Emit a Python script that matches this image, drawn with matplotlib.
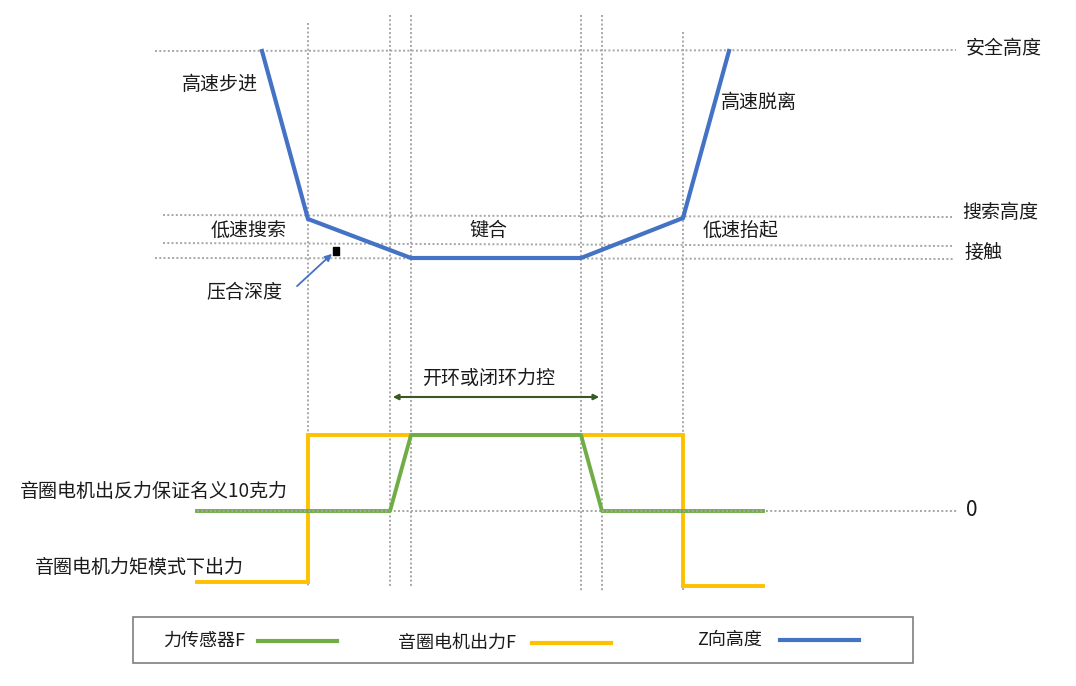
import matplotlib.pyplot as plt
from matplotlib.patches import Rectangle

plt.rcParams['font.family'] = ['Noto Sans CJK SC', 'DejaVu Sans']
plt.rcParams['font.weight'] = 'light'

# 颜色
BLUE = '#4472C4'
GREEN = '#70AD47'
YELLOW = '#FFC000'
GRID = '#A6A6A6'
TXT = '#1a1a1a'

# 时间节点（横向位置）与竖直辅助线范围
guide_x = [308, 390, 411, 581, 602, 683]
guide_top = [23, 15, 15, 15, 15, 32]
guide_bottom = [586, 587, 587, 591, 591, 590]

# 高度水平线：名称、纵向位置、左右端
level_names = ['安全高度', '搜索高度', '接触', '']
level_y_left = [51, 215, 243, 258]
level_y_right = [50, 217, 246, 259]
level_x_left = [155, 163, 163, 155]
level_x_right = [956, 953, 953, 953]

# Z向高度曲线
z_t = [262, 308, 411, 581, 683, 729]
z_h = [51, 219, 258, 258, 218, 51]

# 力曲线
force_zero = 511
sensor_t = [197, 390, 411, 581, 602, 763]
sensor_f = [511, 511, 435, 435, 511, 511]
coil_t = [197, 308, 308, 683, 683, 763]
coil_f = [582, 582, 435, 435, 586, 586]

fig = plt.figure(figsize=(10.76, 6.86), dpi=100)
ax = fig.add_axes([0, 0, 1, 1])
ax.set_xlim(0, 1076)
ax.set_ylim(686, 0)
ax.axis('off')

dot = (0, (1, 1.2))

# 竖直辅助线
for x, t, b in zip(guide_x, guide_top, guide_bottom):
    ax.plot([x, x], [t, b], color=GRID, lw=1.4, ls=dot, zorder=1)

# 水平高度线
for xl, xr, yl, yr in zip(level_x_left, level_x_right, level_y_left, level_y_right):
    ax.plot([xl, xr], [yl, yr], color=GRID, lw=1.4, ls=dot, zorder=1)

# 0 线
ax.plot([197, 958], [force_zero, force_zero], color=GRID, lw=1.4, ls=dot, zorder=1)

# 曲线
ax.plot(z_t, z_h, color=BLUE, lw=3, solid_joinstyle='miter', zorder=3)
ax.plot(coil_t, coil_f, color=YELLOW, lw=2.8, solid_joinstyle='miter', zorder=3)
ax.plot(sensor_t, sensor_f, color=GREEN, lw=2.8, zorder=4)
ax.plot([197, 390], [force_zero, force_zero], color=GRID, lw=1.4, ls=dot, zorder=5)
ax.plot([602, 763], [force_zero, force_zero], color=GRID, lw=1.4, ls=dot, zorder=5)

# 文字标注
fs = 13.7
ax.text(220, 85, '高速步进', fontsize=fs, color=TXT, ha='center', va='center')
ax.text(759, 102, '高速脱离', fontsize=fs, color=TXT, ha='center', va='center')
ax.text(249, 231, '低速搜索', fontsize=fs, color=TXT, ha='center', va='center')
ax.text(488, 230, '键合', fontsize=fs, color=TXT, ha='center', va='center')
ax.text(741, 231, '低速抬起', fontsize=fs, color=TXT, ha='center', va='center')
ax.text(244, 292, '压合深度', fontsize=fs, color=TXT, ha='center', va='center')
ax.text(966, 48, level_names[0], fontsize=fs, color=TXT, ha='left', va='center')
ax.text(962, 212, level_names[1], fontsize=fs, color=TXT, ha='left', va='center')
ax.text(964, 253, level_names[2], fontsize=fs, color=TXT, ha='left', va='center')
ax.text(966, 510, '0', fontsize=15, color=TXT, ha='left', va='center')

# 压合深度箭头
ax.add_patch(Rectangle((333, 247), 6, 8, color='black', zorder=5))
ax.annotate('', xy=(334, 252), xytext=(295, 288),
            arrowprops=dict(arrowstyle='-|>', color=BLUE, lw=1.3, mutation_scale=10))

# 力控区间双箭头
ax.annotate('', xy=(390, 397), xytext=(602, 397),
            arrowprops=dict(arrowstyle='<|-|>', color='#3B5A23', lw=1.5, mutation_scale=8))
ax.text(489, 378, '开环或闭环力控', fontsize=fs, color=TXT, ha='center', va='center')

ax.text(154, 491, '音圈电机出反力保证名义10克力', fontsize=fs, color=TXT, ha='center', va='center')
ax.text(139, 567, '音圈电机力矩模式下出力', fontsize=fs, color=TXT, ha='center', va='center')

# 图例
ax.add_patch(Rectangle((133, 617), 780, 46, fill=False, edgecolor='#7f7f7f', lw=1.2))
legend_items = [('力传感器F', GREEN, 163, 258, 641),
                ('音圈电机出力F', YELLOW, 398, 532, 643),
                ('Z向高度', BLUE, 697, 780, 640)]
for label, c, tx, lx, ly in legend_items:
    ax.text(tx, ly, label, fontsize=13, color=TXT, ha='left', va='center')
    ax.plot([lx, lx + 79], [ly, ly], color=c, lw=3)

fig.savefig('out.png', dpi=100)
